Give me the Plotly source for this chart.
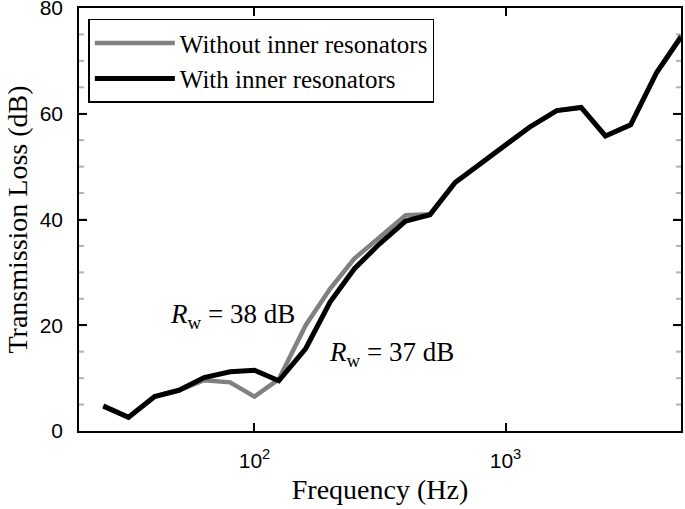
import numpy as np
import plotly.graph_objects as go

freq = [25, 31.5, 40, 50, 63, 80, 100, 125, 160, 200, 250, 315, 400, 500,
        630, 800, 1000, 1250, 1600, 2000, 2500, 3150, 4000, 5000]
tl_without = [4.8, 2.6, 6.5, 7.7, 9.6, 9.2, 6.5, 9.8, 20.0, 26.9, 32.6, 36.6, 40.8, 41.0,
              47.0, 50.6, 54.0, 57.5, 60.6, 61.2, 55.8, 57.9, 67.8, 74.8]
tl_with = [4.7, 2.6, 6.5, 7.7, 10.1, 11.2, 11.5, 9.5, 15.6, 24.4, 30.7, 35.4, 39.7, 40.9,
           47.0, 50.6, 54.0, 57.5, 60.6, 61.2, 55.8, 57.9, 67.8, 74.5]
names = ["Without inner resonators", "With inner resonators"]
x_major = [100, 1000]
x_major_text = ["10<sup>2</sup>", "10<sup>3</sup>"]
x_minor = [30, 40, 50, 60, 70, 80, 90, 200, 300, 400, 500, 600, 700, 800, 900,
           2000, 3000, 4000]
y_major = [0, 20, 40, 60, 80]
y_minor = [5, 10, 15, 25, 30, 35, 45, 50, 55, 65, 70, 75]
notes = ["<i>R</i><sub>w</sub> = 38 dB", "<i>R</i><sub>w</sub> = 37 dB"]
note_x = [82, 352]
note_y = [21.7, 14.5]

serif = "Liberation Serif"
sans = "Liberation Sans"

fig = go.Figure()
fig.add_trace(go.Scatter(x=freq, y=tl_without, mode="lines", name=names[0],
                         line=dict(color="rgb(128,128,128)", width=4.5)))
fig.add_trace(go.Scatter(x=freq, y=tl_with, mode="lines", name=names[1],
                         line=dict(color="black", width=5)))

for t, xx, yy in zip(notes, note_x, note_y):
    fig.add_annotation(x=np.log10(xx), y=yy, text=t, showarrow=False,
                       font=dict(family=serif, size=27, color="black"))

# tick marks drawn inward on all four sides (at the tick values)
tick_line = dict(color="black", width=2)
for vals, ln in ((x_major, 8), (x_minor, 5)):
    for v in vals:
        lv = float(np.log10(v))
        fig.add_shape(type="line", xref="x", yref="paper", ysizemode="pixel", yanchor=0,
                      x0=lv, x1=lv, y0=0, y1=ln, line=tick_line, layer="above")
        fig.add_shape(type="line", xref="x", yref="paper", ysizemode="pixel", yanchor=1,
                      x0=lv, x1=lv, y0=0, y1=-ln, line=tick_line, layer="above")
for vals, ln in ((y_major[1:-1], 8), (y_minor, 5)):
    for v in vals:
        fig.add_shape(type="line", yref="y", xref="paper", xsizemode="pixel", xanchor=0,
                      y0=v, y1=v, x0=0, x1=ln, line=tick_line, layer="above")
        fig.add_shape(type="line", yref="y", xref="paper", xsizemode="pixel", xanchor=1,
                      y0=v, y1=v, x0=0, x1=-ln, line=tick_line, layer="above")

fig.update_xaxes(type="log", range=[np.log10(20), np.log10(5000)],
                 tickmode="array", tickvals=x_major, ticktext=x_major_text,
                 ticks="inside", ticklen=8, tickwidth=2, tickcolor="black",
                 showline=True, linecolor="black", linewidth=1.5, mirror="allticks",
                 showgrid=False, zeroline=False, automargin=False,
                 ticklabeloverflow="allow", ticklabelstandoff=10,
                 tickfont=dict(family=sans, size=21, color="black"),
                 title=dict(text="Frequency (Hz)", font=dict(family=serif, size=28, color="black"),
                            standoff=8))
fig.update_yaxes(range=[0, 80], tickmode="array", tickvals=y_major,
                 ticks="inside", ticklen=8, tickwidth=2, tickcolor="black",
                 showline=True, linecolor="black", linewidth=1.5, mirror="allticks",
                 showgrid=False, zeroline=False, automargin=False,
                 ticklabeloverflow="allow", ticklabelstandoff=10,
                 tickfont=dict(family=sans, size=21, color="black"),
                 title=dict(text="Transmission Loss (dB)",
                            font=dict(family=serif, size=28, color="black"), standoff=4))

fig.update_layout(template="simple_white",
                  width=685, height=509, plot_bgcolor="white", paper_bgcolor="white",
                  margin=dict(l=79, r=4, t=8, b=78, autoexpand=False),
                  showlegend=True,
                  legend=dict(x=0.0155, y=0.9745, xanchor="left", yanchor="top",
                              bordercolor="black", borderwidth=1.5, bgcolor="white",
                              font=dict(family=serif, size=25, color="black"),
                              itemwidth=80, tracegroupgap=0))

fig.write_html("out.html", config={"displayModeBar": False},
               post_script="document.body.style.margin='0px';")
